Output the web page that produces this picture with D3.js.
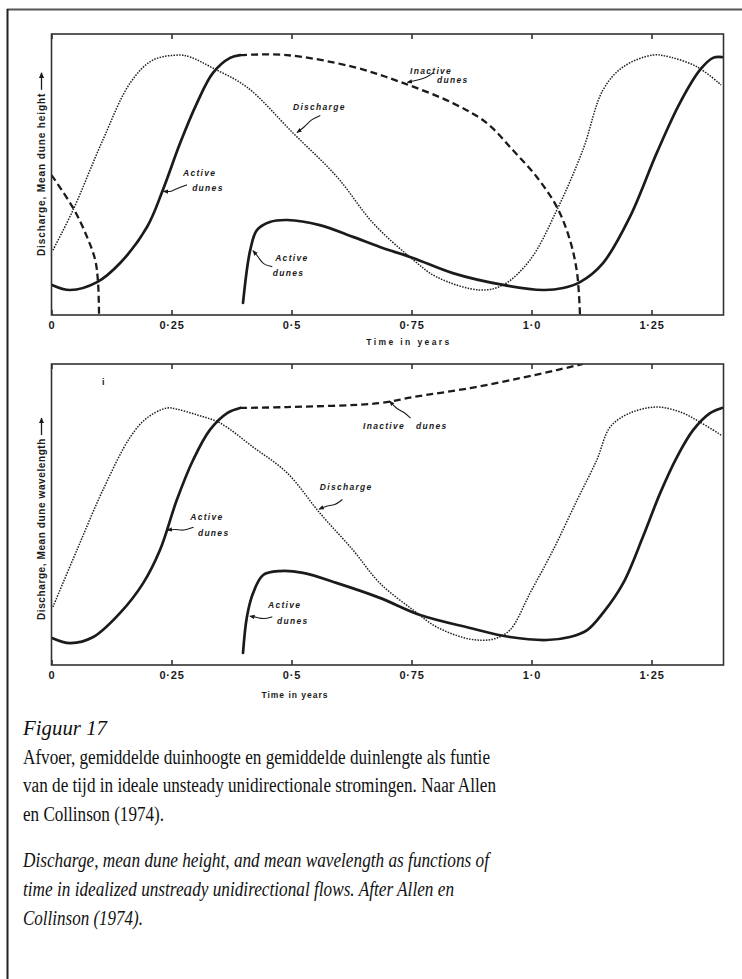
<!DOCTYPE html>
<html>
<head>
<meta charset="utf-8">
<script src="https://cdn.jsdelivr.net/npm/d3@7/dist/d3.min.js"></script>
<style>
  html, body { margin: 0; padding: 0; background: #fff; }
  svg { display: block; }
</style>
</head>
<body>
<svg id="fig" width="742" height="979"></svg>
<script>
// ---- Time axis ----
const timeDomain = [0, 1.4];
const tickValues = [0, 0.25, 0.5, 0.75, 1.0, 1.25];
const tickLabels = ["0", "0·25", "0·5", "0·75", "1·0", "1·25"];

// ---- Panel (a): discharge and mean dune height, [time in years, relative value 0–10] ----
const heightDischarge = [
  [0.003, 2.31], [0.045, 3.74], [0.107, 6.23], [0.164, 8.26], [0.211, 9.07],
  [0.268, 9.25], [0.289, 9.18], [0.336, 8.79], [0.407, 8.11], [0.503, 6.48],
  [0.595, 4.91], [0.670, 3.27], [0.747, 2.06], [0.803, 1.35], [0.893, 0.89],
  [0.941, 1.07], [0.997, 1.96], [1.053, 3.74], [1.107, 5.87], [1.149, 8.01],
  [1.191, 8.83], [1.253, 9.25], [1.288, 9.18], [1.345, 8.83], [1.395, 8.19]
];
const heightActiveRising = [
  [0.001, 1.07], [0.039, 0.89], [0.095, 1.17], [0.143, 1.85], [0.199, 3.13],
  [0.232, 4.45], [0.268, 6.12], [0.303, 7.54], [0.336, 8.61], [0.372, 9.15],
  [0.393, 9.25]
];
const heightInactive = [
  [0.393, 9.25], [0.490, 9.25], [0.628, 8.83], [0.732, 8.26], [0.836, 7.54],
  [0.907, 6.83], [0.961, 5.87], [1.011, 4.91], [1.053, 3.84], [1.080, 2.67],
  [1.095, 1.49], [1.101, 0.0]
];
const heightInactivePrevious = [
  [0.0, 4.98], [0.045, 3.81], [0.074, 2.78], [0.091, 1.96], [0.097, 1.14],
  [0.099, 0.0]
];
const heightActiveNew = [
  [0.399, 0.43], [0.414, 2.31], [0.428, 3.02], [0.455, 3.31], [0.491, 3.38],
  [0.559, 3.20], [0.628, 2.78], [0.684, 2.42], [0.753, 2.03], [0.836, 1.49],
  [0.941, 1.07], [1.024, 0.89], [1.066, 0.96], [1.101, 1.17], [1.149, 1.85],
  [1.205, 3.49], [1.261, 5.77], [1.309, 7.54], [1.351, 8.72], [1.378, 9.15],
  [1.397, 9.18]
];

// ---- Panel (b): discharge and mean dune wavelength ----
const lengthDischarge = [
  [0.003, 1.93], [0.053, 3.82], [0.107, 5.81], [0.164, 7.57], [0.199, 8.21],
  [0.241, 8.54], [0.261, 8.50], [0.303, 8.31], [0.351, 8.04], [0.420, 7.24],
  [0.491, 6.38], [0.559, 5.05], [0.628, 3.82], [0.684, 2.72], [0.753, 1.83],
  [0.803, 1.26], [0.872, 0.86], [0.920, 0.86], [0.955, 1.16], [0.997, 2.39],
  [1.045, 3.82], [1.095, 5.48], [1.136, 6.81], [1.164, 7.91], [1.205, 8.37],
  [1.261, 8.57], [1.309, 8.41], [1.351, 8.07], [1.395, 7.64]
];
const lengthActiveRising = [
  [0.001, 0.90], [0.039, 0.73], [0.087, 0.93], [0.143, 1.73], [0.191, 2.72],
  [0.226, 3.82], [0.261, 5.48], [0.295, 6.81], [0.330, 7.81], [0.366, 8.37],
  [0.393, 8.54]
];
const lengthInactive = [
  [0.393, 8.54], [0.491, 8.57], [0.684, 8.70], [0.753, 8.90], [0.872, 9.20],
  [0.976, 9.53], [1.053, 9.80], [1.107, 10.0]
];
const lengthActiveNew = [
  [0.399, 0.40], [0.407, 1.59], [0.420, 2.39], [0.441, 2.99], [0.476, 3.12],
  [0.524, 3.06], [0.595, 2.72], [0.684, 2.23], [0.768, 1.66], [0.872, 1.23],
  [0.955, 0.93], [1.032, 0.83], [1.080, 0.93], [1.116, 1.16], [1.149, 1.73],
  [1.191, 2.72], [1.232, 4.25], [1.268, 5.71], [1.303, 6.91], [1.337, 7.81],
  [1.372, 8.37], [1.397, 8.54]
];

// ---- Curve labels: text lines [t, v, text] and leader arrows [[t, v], ...] ----
const heightLabels = [
  { lines: [[0.503, 7.30, "Discharge"]], arrow: [[0.560, 7.10], [0.540, 6.95], [0.528, 6.70], [0.512, 6.50]] },
  { lines: [[0.274, 4.95, "Active"], [0.293, 4.41, "dunes"]], arrow: [[0.282, 4.63], [0.262, 4.52], [0.250, 4.38], [0.234, 4.40]] },
  { lines: [[0.466, 1.92, "Active"], [0.461, 1.39, "dunes"]], arrow: [[0.460, 1.72], [0.440, 1.80], [0.432, 2.05], [0.420, 2.28]] },
  { lines: [[0.747, 8.58, "Inactive"], [0.803, 8.26, "dunes"]], arrow: [[0.795, 8.62], [0.782, 8.45], [0.760, 8.35], [0.742, 8.28]] }
];
const lengthLabels = [
  { lines: [[0.649, 7.84, "Inactive   dunes"]], arrow: [[0.748, 8.20], [0.735, 8.40], [0.718, 8.52], [0.705, 8.76]] },
  { lines: [[0.559, 5.81, "Discharge"]], arrow: [[0.606, 5.50], [0.590, 5.30], [0.575, 5.30], [0.558, 5.18]] },
  { lines: [[0.289, 4.82, "Active"], [0.305, 4.29, "dunes"]], arrow: [[0.296, 4.58], [0.275, 4.45], [0.258, 4.52], [0.242, 4.48]] },
  { lines: [[0.451, 1.89, "Active"], [0.470, 1.36, "dunes"]], arrow: [[0.460, 1.60], [0.442, 1.52], [0.428, 1.58], [0.414, 1.62]] }
];

// ---- Caption ----
const captionDutch = [
  "Figuur 17",
  "Afvoer, gemiddelde duinhoogte en gemiddelde duinlengte als funtie",
  "van de tijd in ideale unsteady unidirectionale stromingen. Naar Allen",
  "en Collinson (1974)."
];
const captionEnglish = [
  "Discharge, mean dune height, and mean wavelength as functions of",
  "time in idealized unstready unidirectional flows. After Allen en",
  "Collinson (1974)."
];

const svg = d3.select("#fig");
const ink = "#1b1b1b";
const sans = "'Liberation Sans', Arial, 'DejaVu Sans', sans-serif";
const serif = "'Liberation Serif', 'Times New Roman', serif";

// Arrowheads: leader lines and the axis-title arrow
const defs = svg.append("defs");
defs.append("marker")
  .attr("id", "head")
  .attr("viewBox", "0 0 10 10")
  .attr("refX", 8).attr("refY", 5)
  .attr("markerWidth", 5).attr("markerHeight", 5)
  .attr("orient", "auto")
  .append("path").attr("d", "M0,1 L10,5 L0,9 Z").attr("fill", ink);
defs.append("marker")
  .attr("id", "titleHead")
  .attr("viewBox", "0 0 10 10")
  .attr("refX", 9).attr("refY", 5)
  .attr("markerWidth", 4.5).attr("markerHeight", 4.5)
  .attr("orient", "auto")
  .append("path").attr("d", "M0,0.5 L10,5 L0,9.5 Z").attr("fill", ink);

// Page frame (top rule and left rule)
svg.append("line").attr("x1", 7).attr("x2", 742).attr("y1", 9.5).attr("y2", 9.5)
  .attr("stroke", "#555").attr("stroke-width", 2);
svg.append("line").attr("x1", 7.5).attr("x2", 7.5).attr("y1", 9).attr("y2", 979)
  .attr("stroke", "#222").attr("stroke-width", 2);

const x = d3.scaleLinear().domain(timeDomain).range([51.5, 723.5]);

function drawPanel(p) {
  const y = d3.scaleLinear().domain([0, 10]).range([p.bottom, p.top]);
  const g = svg.append("g");

  const line = d3.line()
    .x(d => x(d[0])).y(d => y(d[1]))
    .curve(d3.curveCatmullRom.alpha(0.5));

  const clipId = "clip" + p.top;
  defs.append("clipPath").attr("id", clipId)
    .append("rect").attr("x", x(0)).attr("y", p.top)
    .attr("width", x(1.4) - x(0)).attr("height", p.bottom - p.top);

  const curves = g.append("g").attr("clip-path", `url(#${clipId})`);

  // discharge: fine dotted line
  curves.append("path").datum(p.discharge).attr("d", line)
    .attr("fill", "none").attr("stroke", "#1f1f1f")
    .attr("stroke-width", 1.5).attr("stroke-dasharray", "1.5 1.3");

  // inactive dunes: dashed
  p.inactive.forEach(s => {
    curves.append("path").datum(s).attr("d", line)
      .attr("fill", "none").attr("stroke", ink)
      .attr("stroke-width", 2.3).attr("stroke-dasharray", "7 4");
  });

  // active dunes: heavy solid
  p.active.forEach(s => {
    curves.append("path").datum(s).attr("d", line)
      .attr("fill", "none").attr("stroke", ink)
      .attr("stroke-width", 2.7).attr("stroke-linecap", "round");
  });

  // plot frame
  g.append("rect").attr("x", x(0)).attr("y", p.top)
    .attr("width", x(1.4) - x(0)).attr("height", p.bottom - p.top)
    .attr("fill", "none").attr("stroke", "#333").attr("stroke-width", 1.6);

  // inward ticks on the time axis, bottom and top
  const axB = g.append("g").attr("transform", `translate(0,${p.bottom})`)
    .call(d3.axisBottom(x).tickValues(tickValues).tickSize(-5).tickPadding(6)
      .tickFormat((d, i) => tickLabels[i]));
  const axT = g.append("g").attr("transform", `translate(0,${p.top})`)
    .call(d3.axisTop(x).tickValues(tickValues).tickSize(-5).tickFormat(""));
  [axB, axT].forEach(a => {
    a.select(".domain").remove();
    a.selectAll(".tick line").attr("stroke", "#333").attr("stroke-width", 1.6);
  });
  axB.selectAll(".tick text")
    .attr("font-family", sans).attr("font-weight", "bold").attr("font-size", 11)
    .attr("letter-spacing", "0.8px").attr("fill", ink);

  // axis titles
  g.append("text").attr("x", p.timeTitleX).attr("y", p.bottom + p.timeTitleDy)
    .attr("text-anchor", "middle").attr("font-family", sans).attr("font-weight", "bold")
    .attr("font-size", 8.5).attr("letter-spacing", p.timeTitleSpacing)
    .attr("fill", ink).text("Time in years");

  // vertical title, followed by an upward arrow
  const yg = g.append("g").attr("transform", `translate(45,${p.yTitleBase}) rotate(-90)`);
  const yt = yg.append("text").attr("x", 0).attr("y", 0)
    .attr("font-family", sans).attr("font-weight", "bold")
    .attr("font-size", 10).attr("letter-spacing", p.yTitleSpacing).attr("fill", ink)
    .text(p.yTitle);
  const len = yt.node().getComputedTextLength();
  yg.append("line").attr("x1", len + 3).attr("x2", len + 20)
    .attr("y1", -3.5).attr("y2", -3.5)
    .attr("stroke", ink).attr("stroke-width", 1.3)
    .attr("marker-end", "url(#titleHead)");

  // curve labels with leader arrows
  const arrowLine = d3.line().x(d => x(d[0])).y(d => y(d[1])).curve(d3.curveBasis);
  p.labels.forEach(l => {
    l.lines.forEach(([t, v, s]) => {
      g.append("text").attr("x", x(t)).attr("y", y(v))
        .attr("font-family", sans).attr("font-weight", "bold").attr("font-style", "italic")
        .attr("font-size", 8.5).attr("letter-spacing", "1.3px").attr("fill", ink)
        .style("white-space", "pre")
        .text(s);
    });
    g.append("path").datum(l.arrow).attr("d", arrowLine)
      .attr("fill", "none").attr("stroke", ink).attr("stroke-width", 1.1)
      .attr("marker-end", "url(#head)");
  });

  (p.marks || []).forEach(([t, v, s]) => {
    g.append("text").attr("x", x(t)).attr("y", y(v))
      .attr("font-family", sans).attr("font-weight", "bold").attr("font-size", 9)
      .attr("fill", "#222").text(s);
  });
}

drawPanel({
  top: 34, bottom: 315,
  discharge: heightDischarge,
  active: [heightActiveRising, heightActiveNew],
  inactive: [heightInactive, heightInactivePrevious],
  labels: heightLabels,
  timeTitleX: 409, timeTitleDy: 30, timeTitleSpacing: "2.4px",
  yTitle: "Discharge, Mean dune height", yTitleBase: 256, yTitleSpacing: "0.9px"
});

drawPanel({
  top: 364, bottom: 665,
  discharge: lengthDischarge,
  active: [lengthActiveRising, lengthActiveNew],
  inactive: [lengthInactive],
  labels: lengthLabels,
  timeTitleX: 295, timeTitleDy: 33, timeTitleSpacing: "1px",
  yTitle: "Discharge, Mean dune wavelength", yTitleBase: 620, yTitleSpacing: "0.6px",
  marks: [[0.105, 9.3, "i"]]
});

// caption block
const capLeft = 23;
const dutchBase = [735, 764, 792, 821];
const dutchLen = [84, 467, 473, 141];
captionDutch.forEach((s, i) => {
  svg.append("text").attr("x", capLeft).attr("y", dutchBase[i])
    .attr("font-family", serif).attr("font-size", 20.5).attr("fill", "#111")
    .attr("font-style", i === 0 ? "italic" : "normal")
    .attr("textLength", dutchLen[i]).attr("lengthAdjust", "spacingAndGlyphs")
    .text(s);
});
const engBase = [867, 896, 925];
const engLen = [466, 431, 120];
captionEnglish.forEach((s, i) => {
  svg.append("text").attr("x", capLeft).attr("y", engBase[i])
    .attr("font-family", serif).attr("font-size", 20.5).attr("fill", "#111")
    .attr("font-style", "italic")
    .attr("textLength", engLen[i]).attr("lengthAdjust", "spacingAndGlyphs")
    .text(s);
});
</script>
</body>
</html>
